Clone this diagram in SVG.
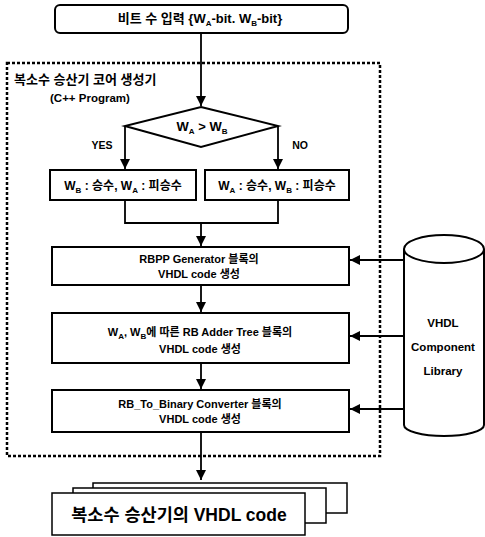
<svg xmlns="http://www.w3.org/2000/svg" width="485" height="537" viewBox="0 0 485 537">
<style>
.box{fill:#fff;stroke:#000;stroke-width:2}
.ln{fill:none;stroke:#000;stroke-width:1.8}
.t{font-family:"Liberation Sans","Noto Sans CJK KR",sans-serif;font-weight:bold;font-size:11px;fill:#000;text-anchor:middle}
.m{font-size:12px}
.sub{font-size:8px}
</style>
<defs>
<marker id="ah" viewBox="0 0 10 10" refX="10" refY="5" markerWidth="10" markerHeight="10" markerUnits="userSpaceOnUse" orient="auto">
<path d="M0,0 L10,5 L0,10 z" fill="#000"/>
</marker>
</defs>
<rect width="485" height="537" fill="#fff"/>
<g id="core-frame">
<rect x="7" y="63" width="373" height="393" fill="none" stroke="#000" stroke-width="2.5" stroke-dasharray="3 2"/>
<text class="t" x="14" y="84" style="text-anchor:start;font-size:13px">복소수 승산기 코어 생성기</text>
<text class="t" x="50" y="102" style="text-anchor:start;font-size:11.5px">(C++ Program)</text>
</g>
<g id="connectors">
<line class="ln" x1="201" y1="33" x2="201" y2="106" marker-end="url(#ah)"/>
<polyline class="ln" points="125,126 125,169" marker-end="url(#ah)"/>
<polyline class="ln" points="278,126 278,169" marker-end="url(#ah)"/>
<polyline class="ln" points="125,200 125,223 278,223 278,200"/>
<line class="ln" x1="201" y1="223" x2="201" y2="246" marker-end="url(#ah)"/>
<line class="ln" x1="201" y1="285" x2="201" y2="312" marker-end="url(#ah)"/>
<line class="ln" x1="201" y1="363" x2="201" y2="389" marker-end="url(#ah)"/>
<line class="ln" x1="201" y1="432" x2="201" y2="480" marker-end="url(#ah)"/>
<line class="ln" x1="404" y1="260" x2="350" y2="260" marker-end="url(#ah)"/>
<line class="ln" x1="404" y1="336" x2="350" y2="336" marker-end="url(#ah)"/>
<line class="ln" x1="404" y1="409" x2="350" y2="409" marker-end="url(#ah)"/>
<text class="t" x="102" y="149" style="font-size:10.5px">YES</text>
<text class="t" x="300" y="149" style="font-size:10.5px">NO</text>
</g>
<g id="input">
<rect class="box" x="55" y="5" width="293" height="28" rx="5"/>
<text class="t" x="200" y="23" style="font-size:13px">비트 수 입력 {W<tspan class="sub" dy="3">A</tspan><tspan dy="-3">-bit. W</tspan><tspan class="sub" dy="3">B</tspan><tspan dy="-3">-bit}</tspan></text>
</g>
<g id="compare">
<polygon points="201,107 278,126 201,147 125,126" fill="#fff" stroke="#000" stroke-width="2"/>
<text class="t m" x="202" y="131" style="font-size:13px">W<tspan class="sub" dy="3">A</tspan><tspan dy="-3"> &gt; W</tspan><tspan class="sub" dy="3">B</tspan></text>
</g>
<g id="yes-box">
<rect class="box" x="50" y="170" width="146" height="30"/>
<text class="t m" x="123" y="190">W<tspan class="sub" dy="3">B</tspan><tspan dy="-3"> : 승수, W</tspan><tspan class="sub" dy="3">A</tspan><tspan dy="-3"> : 피승수</tspan></text>
</g>
<g id="no-box">
<rect class="box" x="205" y="170" width="144" height="30"/>
<text class="t m" x="277" y="190">W<tspan class="sub" dy="3">A</tspan><tspan dy="-3"> : 승수, W</tspan><tspan class="sub" dy="3">B</tspan><tspan dy="-3"> : 피승수</tspan></text>
</g>
<g id="rbpp">
<rect class="box" x="52" y="247" width="297" height="38"/>
<text class="t" x="199" y="263">RBPP Generator 블록의</text>
<text class="t" x="199" y="278">VHDL code 생성</text>
</g>
<g id="adder">
<rect class="box" x="52" y="313" width="297" height="50"/>
<text class="t" x="200" y="336">W<tspan class="sub" dy="3">A</tspan><tspan dy="-3">, W</tspan><tspan class="sub" dy="3">B</tspan><tspan dy="-3">에 따른 RB Adder Tree 블록의</tspan></text>
<text class="t" x="200" y="353">VHDL code 생성</text>
</g>
<g id="converter">
<rect class="box" x="52" y="390" width="297" height="42"/>
<text class="t" x="200" y="408">RB_To_Binary Converter 블록의</text>
<text class="t" x="200" y="423">VHDL code 생성</text>
</g>
<g id="library">
<path d="M404,249 L404,425 A40,11 0 0 0 484,425 L484,249" fill="#fff" stroke="#000" stroke-width="2"/>
<ellipse cx="444" cy="249" rx="40" ry="14" fill="#fff" stroke="#000" stroke-width="2"/>
<text class="t" x="443" y="327" style="font-size:11.5px">VHDL</text>
<text class="t" x="443" y="351" style="font-size:11.5px">Component</text>
<text class="t" x="443" y="375" style="font-size:11.5px">Library</text>
</g>
<g id="output">
<rect class="box" x="93" y="483" width="254" height="30" style="stroke-width:1.5"/>
<rect class="box" x="73" y="488" width="253" height="35" style="stroke-width:1.5"/>
<rect class="box" x="52" y="493" width="253" height="42" style="stroke-width:1.5"/>
<text class="t" x="179" y="521" style="font-size:17.5px">복소수 승산기의 VHDL code</text>
</g>
</svg>
